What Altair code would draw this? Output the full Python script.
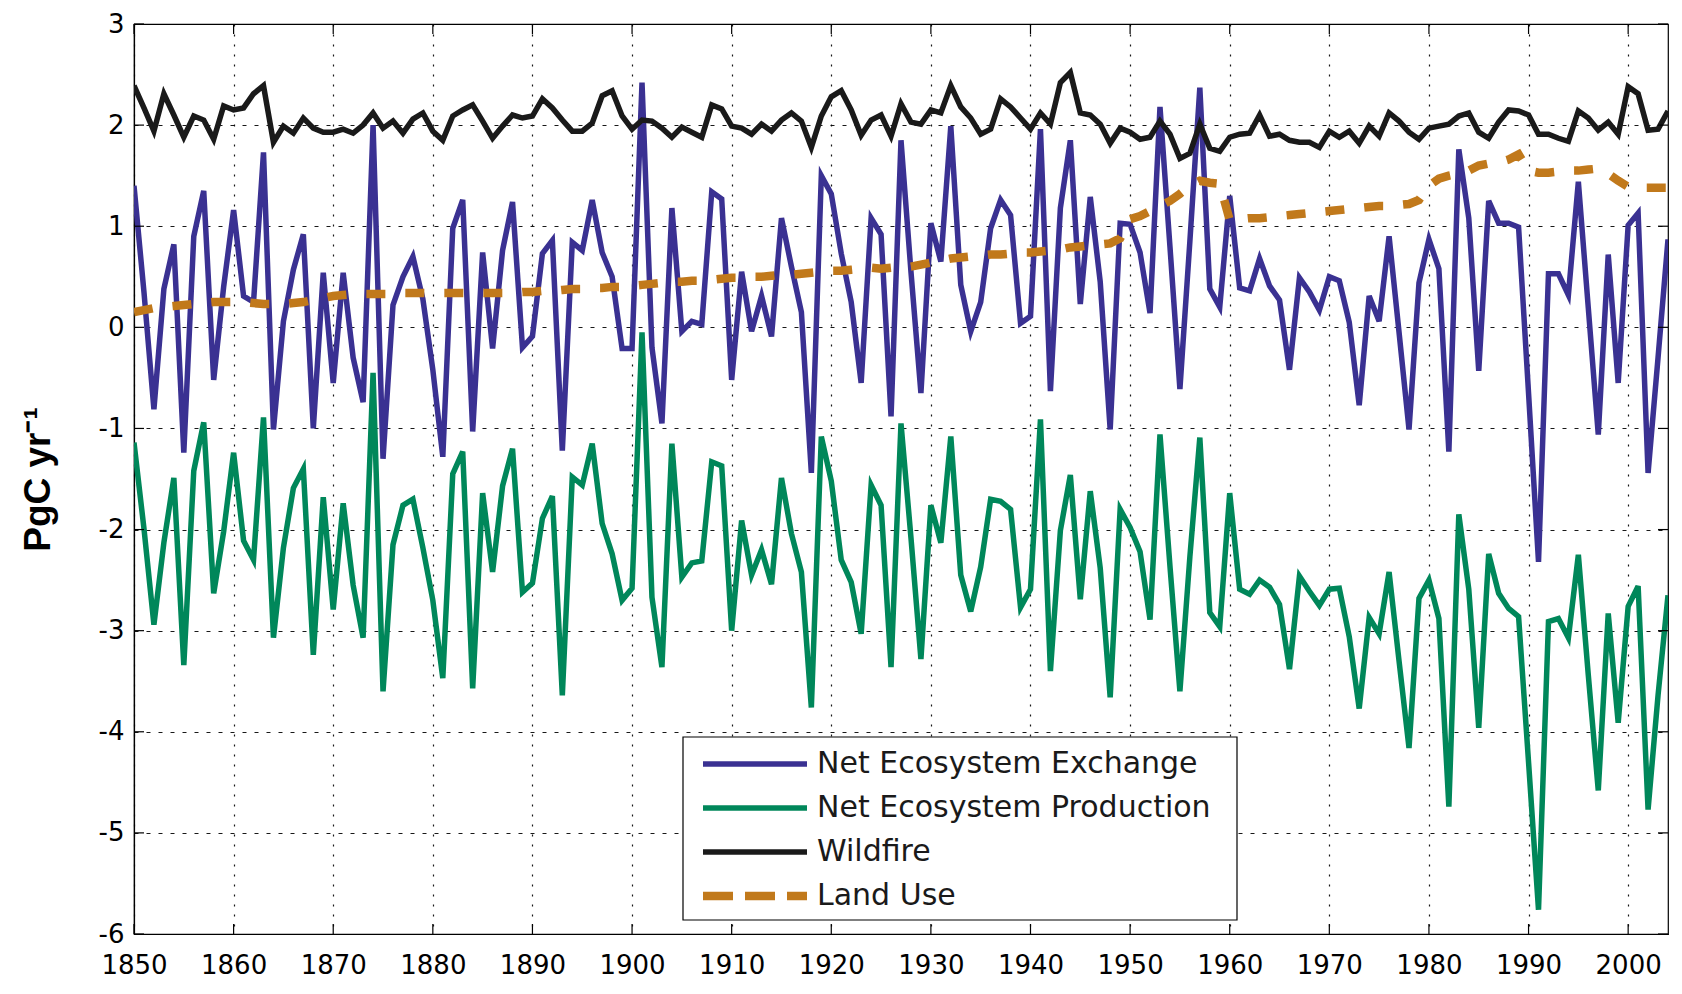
import altair as alt
import pandas as pd

# ---------------- data ----------------
years = list(range(1850, 2005))

nee = [
    1.40, 0.35, -0.81, 0.38, 0.82, -1.24, 0.90, 1.35, -0.52, 0.40,
    1.16, 0.31, 0.25, 1.73, -1.01, 0.06, 0.57, 0.92, -1.00, 0.54,
    -0.55, 0.54, -0.30, -0.74, 2.00, -1.30, 0.22, 0.50, 0.70, 0.28,
    -0.42, -1.28, 0.98, 1.26, -1.03, 0.74, -0.21, 0.76, 1.24, -0.20,
    -0.09, 0.73, 0.86, -1.22, 0.84, 0.76, 1.26, 0.74, 0.50, -0.21,
    -0.21, 2.42, -0.20, -0.95, 1.18, -0.04, 0.06, 0.03, 1.34, 1.27,
    -0.52, 0.55, -0.04, 0.31, -0.09, 1.08, 0.60, 0.15, -1.44, 1.50,
    1.32, 0.73, 0.25, -0.55, 1.08, 0.92, -0.88, 1.85, 0.55, -0.65,
    1.03, 0.65, 1.99, 0.42, -0.04, 0.25, 0.98, 1.26, 1.11, 0.04,
    0.11, 1.96, -0.63, 1.18, 1.85, 0.23, 1.29, 0.45, -1.01, 1.03,
    1.02, 0.74, 0.14, 2.18, 0.80, -0.61, 0.85, 2.37, 0.38, 0.20,
    1.30, 0.39, 0.36, 0.68, 0.41, 0.27, -0.42, 0.49, 0.35, 0.17,
    0.50, 0.46, 0.05, -0.77, 0.31, 0.06, 0.90, -0.05, -1.01, 0.44,
    0.87, 0.58, -1.23, 1.76, 1.08, -0.43, 1.25, 1.03, 1.03, 0.99,
    -0.65, -2.32, 0.53, 0.53, 0.32, 1.44, 0.19, -1.06, 0.72, -0.55,
    1.01, 1.13, -1.44, -0.30, 0.87,
]

nep = [
    -1.14, -1.99, -2.94, -2.13, -1.49, -3.34, -1.42, -0.94, -2.63, -2.02,
    -1.24, -2.11, -2.30, -0.89, -3.07, -2.18, -1.59, -1.40, -3.24, -1.68,
    -2.79, -1.74, -2.55, -3.07, -0.45, -3.60, -2.15, -1.76, -1.70, -2.18,
    -2.70, -3.47, -1.45, -1.23, -3.57, -1.64, -2.42, -1.57, -1.20, -2.62,
    -2.53, -1.89, -1.67, -3.64, -1.48, -1.56, -1.15, -1.94, -2.24, -2.70,
    -2.58, -0.05, -2.67, -3.36, -1.15, -2.47, -2.33, -2.31, -1.33, -1.37,
    -3.00, -1.91, -2.45, -2.20, -2.54, -1.49, -2.04, -2.42, -3.76, -1.08,
    -1.52, -2.30, -2.52, -3.03, -1.56, -1.76, -3.36, -0.95, -2.08, -3.28,
    -1.76, -2.13, -1.08, -2.45, -2.81, -2.37, -1.70, -1.72, -1.80, -2.77,
    -2.59, -0.91, -3.40, -2.01, -1.46, -2.69, -1.62, -2.38, -3.66, -1.80,
    -1.98, -2.22, -2.89, -1.06, -2.36, -3.60, -2.27, -1.09, -2.82, -2.96,
    -1.64, -2.59, -2.64, -2.50, -2.57, -2.74, -3.38, -2.46, -2.61, -2.75,
    -2.59, -2.58, -3.06, -3.77, -2.87, -3.03, -2.42, -3.30, -4.16, -2.68,
    -2.50, -2.88, -4.74, -1.85, -2.59, -3.96, -2.24, -2.63, -2.78, -2.86,
    -4.30, -5.76, -2.91, -2.88, -3.07, -2.25, -3.44, -4.58, -2.83, -3.91,
    -2.76, -2.56, -4.77, -3.64, -2.65,
]

wildfire = [
    2.39, 2.17, 1.94, 2.31, 2.10, 1.88, 2.09, 2.05, 1.86, 2.19,
    2.15, 2.17, 2.31, 2.39, 1.83, 1.99, 1.92, 2.07, 1.97, 1.93,
    1.93, 1.96, 1.92, 2.00, 2.12, 1.97, 2.04, 1.92, 2.06, 2.12,
    1.94, 1.85, 2.09, 2.15, 2.20, 2.04, 1.87, 1.99, 2.10, 2.07,
    2.09, 2.26, 2.17, 2.05, 1.94, 1.94, 2.02, 2.29, 2.34, 2.09,
    1.96, 2.05, 2.04, 1.97, 1.88, 1.98, 1.93, 1.88, 2.20, 2.16,
    1.99, 1.97, 1.91, 2.01, 1.94, 2.05, 2.12, 2.04, 1.78, 2.09,
    2.28, 2.34, 2.15, 1.90, 2.05, 2.10, 1.89, 2.21, 2.03, 2.01,
    2.15, 2.12, 2.39, 2.18, 2.07, 1.91, 1.96, 2.26, 2.18, 2.07,
    1.96, 2.12, 2.01, 2.42, 2.52, 2.12, 2.10, 2.01, 1.82, 1.97,
    1.93, 1.86, 1.88, 2.04, 1.91, 1.67, 1.72, 2.01, 1.77, 1.74,
    1.88, 1.91, 1.92, 2.10, 1.89, 1.91, 1.85, 1.83, 1.83, 1.78,
    1.94, 1.88, 1.94, 1.82, 1.99, 1.89, 2.12, 2.04, 1.93, 1.86,
    1.97, 1.99, 2.01, 2.09, 2.12, 1.93, 1.87, 2.03, 2.15, 2.14,
    2.10, 1.91, 1.91, 1.87, 1.84, 2.14, 2.07, 1.95, 2.03, 1.91,
    2.38, 2.31, 1.95, 1.96, 2.14,
]

land_use = [
    0.15, 0.17, 0.19, 0.20, 0.21, 0.22, 0.23, 0.24, 0.25, 0.25,
    0.25, 0.25, 0.24, 0.23, 0.23, 0.23, 0.24, 0.25, 0.27, 0.29,
    0.31, 0.32, 0.33, 0.33, 0.33, 0.33, 0.33, 0.34, 0.34, 0.34,
    0.34, 0.34, 0.34, 0.34, 0.34, 0.34, 0.34, 0.34, 0.34, 0.35,
    0.35, 0.36, 0.36, 0.37, 0.38, 0.38, 0.39, 0.39, 0.40, 0.40,
    0.41, 0.42, 0.43, 0.44, 0.45, 0.45, 0.46, 0.46, 0.47, 0.48,
    0.49, 0.49, 0.50, 0.50, 0.51, 0.52, 0.52, 0.53, 0.54, 0.55,
    0.56, 0.56, 0.57, 0.58, 0.59, 0.58, 0.59, 0.59, 0.60, 0.62,
    0.64, 0.66, 0.68, 0.69, 0.70, 0.71, 0.72, 0.72, 0.73, 0.74,
    0.74, 0.75, 0.76, 0.77, 0.79, 0.80, 0.81, 0.82, 0.83, 0.88,
    1.07, 1.10, 1.15, 1.20, 1.25, 1.32, 1.40, 1.45, 1.43, 1.42,
    1.06, 1.07, 1.08, 1.08, 1.09, 1.10, 1.11, 1.12, 1.13, 1.14,
    1.15, 1.16, 1.17, 1.18, 1.19, 1.20, 1.20, 1.21, 1.22, 1.26,
    1.40, 1.47, 1.50, 1.52, 1.55, 1.60, 1.62, 1.63, 1.66, 1.71,
    1.55, 1.53, 1.53, 1.54, 1.55, 1.55, 1.56, 1.57, 1.52, 1.45,
    1.39, 1.38, 1.38, 1.38, 1.38,
]

series_names = ["Net Ecosystem Exchange", "Net Ecosystem Production",
                "Wildfire", "Land Use"]
series_colors = ["#3a3192", "#00875a", "#1a1a1a", "#c1791b"]
x_ticks = list(range(1850, 2001, 10))
y_ticks = list(range(-6, 4))
y_title = "PgC yr⁻¹"

# ---------------- layout / style ----------------
W, H = 1534, 910
FONT = "DejaVu Sans"
LBL = 26
X_DOMAIN = [1850, 2004]
Y_DOMAIN = [-6, 3]

xs = alt.Scale(domain=X_DOMAIN, nice=False, zero=False)
ys = alt.Scale(domain=Y_DOMAIN, nice=False, zero=False)

all_values = [nee, nep, wildfire, land_use]
df = pd.DataFrame({
    "year": years * 4,
    "value": [v for s in all_values for v in s],
    "series": [n for n in series_names for _ in years],
})

x_axis = alt.Axis(values=x_ticks, format="d", grid=True, gridColor="#000",
                  gridDash=[2, 8], gridWidth=1.2, gridOpacity=0.9,
                  ticks=False, tickSize=0, labelPadding=18, labelFontSize=LBL,
                  labelFont=FONT, labelColor="#000", labelFlush=False,
                  labelOverlap=False, domainColor="#000", domainWidth=1.2,
                  title="")
y_axis = alt.Axis(values=y_ticks, grid=True, gridColor="#000",
                  gridDash=[4, 8], gridWidth=1.2, gridOpacity=0.9,
                  ticks=False, tickSize=0, labelPadding=10, labelFontSize=LBL,
                  labelFont=FONT, labelColor="#000", labelFlush=False,
                  labelOverlap=False, domainColor="#000", domainWidth=1.2,
                  labelExpr="toString(datum.value)",
                  title=y_title, titleFont="Liberation Sans",
                  titleFontSize=37, titleFontWeight="bold", titleColor="#000",
                  titleAngle=-90, titleAlign="center", titleBaseline="middle",
                  titleX=-96, titleY=H / 2)


def X(field):
    return alt.X(field, type="quantitative", scale=xs, axis=x_axis, title="")


def Y(field):
    return alt.Y(field, type="quantitative", scale=ys, axis=y_axis, title=y_title)


base = alt.Chart(df)

layers = []
widths = [5.5, 5.5, 5.5, 8.5]
for i, name in enumerate(series_names):
    kw = dict(color=series_colors[i], strokeWidth=widths[i], strokeJoin="miter",
              clip=True)
    if name == "Land Use":
        kw["strokeDash"] = [19, 20]
    layers.append(
        base.transform_filter(alt.datum.series == name).mark_line(**kw).encode(
            x=X("year"), y=Y("value"))
    )

# inward MATLAB-style ticks on all four sides
ytk = pd.DataFrame({"value": y_ticks})
xtk = pd.DataFrame({"year": x_ticks})
TL = 10
for x0, x1 in [(0, TL), (W - TL, W)]:
    layers.append(alt.Chart(ytk).mark_rule(color="#000", strokeWidth=1.2).encode(
        y=Y("value"), x=alt.value(x0), x2=alt.value(x1)))
for y0, y1 in [(H, H - TL), (0, TL)]:
    layers.append(alt.Chart(xtk).mark_rule(color="#000", strokeWidth=1.2).encode(
        x=X("year"), y=alt.value(y0), y2=alt.value(y1)))

# manual legend box
LX0, LX1, LY0, LY1 = 549, 1103, 713, 896
row_y = [740, 784, 828, 872]
sym_x0, sym_x1, txt_x = 569, 673, 683
one = pd.DataFrame({"k": [0]})
layers.append(alt.Chart(one).mark_rect(fill="white", stroke="#000",
                                        strokeWidth=1.2).encode(
    x=alt.value(LX0), x2=alt.value(LX1), y=alt.value(LY0), y2=alt.value(LY1)))
for i, name in enumerate(series_names):
    kw = dict(color=series_colors[i], strokeWidth=widths[i])
    if name == "Land Use":
        kw["strokeDash"] = [30, 12]
    layers.append(alt.Chart(one).mark_rule(**kw).encode(
        x=alt.value(sym_x0), x2=alt.value(sym_x1), y=alt.value(row_y[i])))
    layers.append(alt.Chart(pd.DataFrame({"name": [name]})).mark_text(
        align="left", baseline="middle", font=FONT, fontSize=30,
        color="#1a1a1a").encode(
        x=alt.value(txt_x), y=alt.value(row_y[i]), text="name:N"))

chart = alt.layer(*layers).properties(
    width=W, height=H,
    autosize=alt.AutoSizeParams(type="none"),
    padding={"left": 126, "top": 16, "right": 4, "bottom": 46},
    background="white",
).configure_view(stroke="#000", strokeWidth=1.2)

chart.save("out.html", embed_options={"renderer": "svg", "actions": False})
